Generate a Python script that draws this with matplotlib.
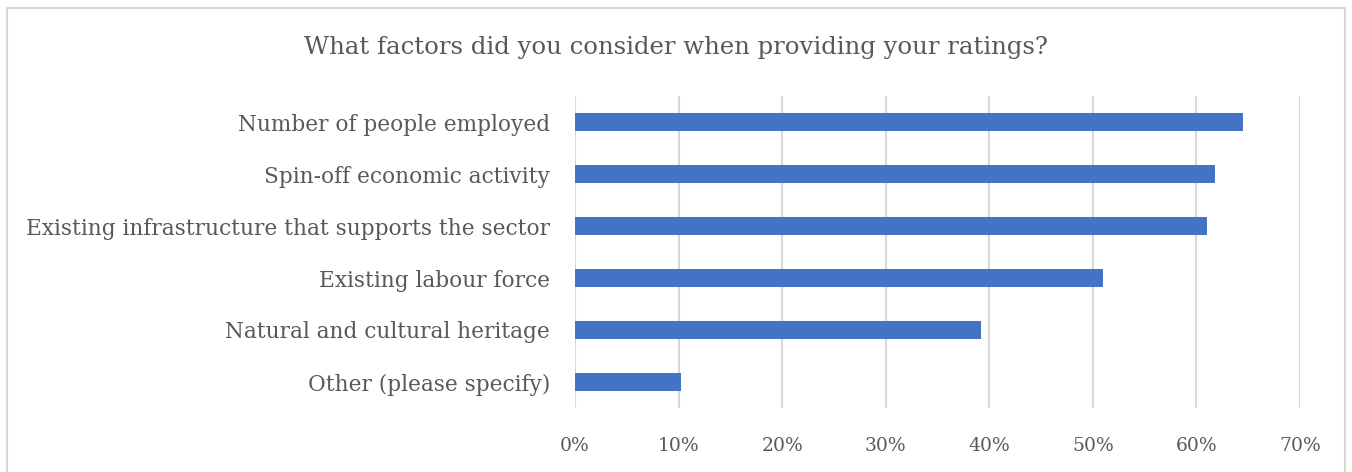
import matplotlib
matplotlib.use("Agg")
import matplotlib.pyplot as plt
from matplotlib.patches import Rectangle
from matplotlib.ticker import PercentFormatter

# survey answers, share of respondents (%)
factors = [
    "Number of people employed",
    "Spin-off economic activity",
    "Existing infrastructure that supports the sector",
    "Existing labour force",
    "Natural and cultural heritage",
    "Other (please specify)",
]
shares = [64.5, 61.8, 61.0, 51.0, 39.2, 10.2]
xticks = [0, 10, 20, 30, 40, 50, 60, 70]

text_col = "#595959"
bar_col = "#4472C4"
grid_col = "#D9D9D9"

plt.rcParams['font.family'] = ['DejaVu Serif']

fig = plt.figure(figsize=(13.52, 4.72), dpi=100)
ax = fig.add_axes([0.4253, 0.1356, 0.5362, 0.661])

ypos = list(range(len(factors)))
ax.barh(ypos, shares, height=0.35, color=bar_col, zorder=3)
ax.set_yticks(ypos)
ax.set_yticklabels(factors, fontsize=15.6, color=text_col)
ax.set_ylim(len(factors) - 0.5, -0.5)

ax.set_xlim(0, 70)
ax.set_xticks(xticks)
ax.xaxis.set_major_formatter(PercentFormatter(decimals=0))
ax.tick_params(axis='x', labelsize=13.5, colors=text_col, length=0, pad=21)
ax.tick_params(axis='y', length=0, pad=18)
ax.grid(axis='x', color=grid_col, linewidth=1.5, zorder=0)
for s in ax.spines.values():
    s.set_visible(False)

fig.text(0.5, 0.9, "What factors did you consider when providing your ratings?",
         ha='center', va='center', fontsize=17.6, color=text_col)

# light frame round the whole chart
fig.patches.append(Rectangle((0.005, -0.01), 0.99, 0.993, transform=fig.transFigure,
                             fill=False, edgecolor=grid_col, linewidth=1.5))

fig.savefig("out.png", dpi=100)
